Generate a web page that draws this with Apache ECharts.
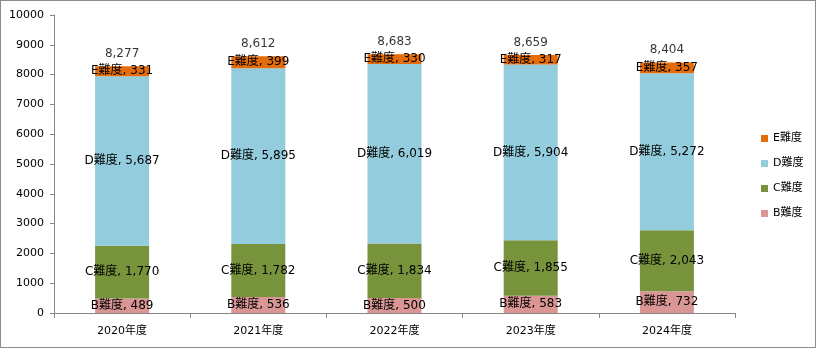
<!DOCTYPE html>
<html>
<head>
<meta charset="utf-8">
<script src="https://cdn.jsdelivr.net/npm/echarts@6/dist/echarts.min.js"></script>
<style>
html,body{margin:0;padding:0;background:#fff;}
#chart{width:816px;height:348px;box-sizing:border-box;border:1px solid #8c8c8c;}
</style>
</head>
<body>
<div id="chart"></div>
<script>
const categories = ['2020年度','2021年度','2022年度','2023年度','2024年度'];
const seriesB = [489, 536, 500, 583, 732];
const seriesC = [1770, 1782, 1834, 1855, 2043];
const seriesD = [5687, 5895, 6019, 5904, 5272];
const seriesE = [331, 399, 330, 317, 357];
const yTicks = [0,1000,2000,3000,4000,5000,6000,7000,8000,9000,10000];

const totals = categories.map((_, i) => seriesB[i] + seriesC[i] + seriesD[i] + seriesE[i]);
const FONT = "'DejaVu Sans','Noto Sans CJK JP',sans-serif";
const fmt = v => Number(v).toLocaleString('en-US');

function barSeries(name, data, color) {
  return {
    name, type: 'bar', stack: 'total', data, barWidth: 54,
    itemStyle: { color },
    label: {
      show: true, position: 'inside', color: '#000', fontFamily: FONT, fontSize: 12,
      formatter: p => p.seriesName + ', ' + fmt(p.value)
    }
  };
}

const chart = echarts.init(document.getElementById('chart'), null, { renderer: 'canvas' });
chart.setOption({
  animation: false,
  textStyle: { fontFamily: FONT },
  grid: { left: 53, right: 80, top: 14, bottom: 34, containLabel: false },
  legend: {
    data: ['E難度','D難度','C難度','B難度'],
    orient: 'vertical', left: 755, top: 127,
    itemWidth: 7, itemHeight: 7, itemGap: 14, icon: 'rect',
    textStyle: { fontFamily: FONT, fontSize: 11, color: '#000' }
  },
  xAxis: {
    type: 'category', data: categories,
    axisLine: { lineStyle: { color: '#868686' } },
    axisTick: { show: true, length: 5, lineStyle: { color: '#868686' } },
    axisLabel: { color: '#000', fontSize: 11, fontFamily: FONT, margin: 13 }
  },
  yAxis: {
    type: 'value', min: yTicks[0], max: yTicks[yTicks.length-1], interval: 1000,
    axisLine: { show: true, lineStyle: { color: '#868686' } },
    axisTick: { show: true, length: 4, lineStyle: { color: '#868686' } },
    splitLine: { show: false },
    axisLabel: { color: '#000', fontSize: 11, fontFamily: FONT, margin: 10, formatter: v => String(v) }
  },
  series: [
    barSeries('B難度', seriesB, '#D99694'),
    barSeries('C難度', seriesC, '#77933C'),
    barSeries('D難度', seriesD, '#93CDDD'),
    barSeries('E難度', seriesE, '#E46C0A'),
    {
      name: '合計', type: 'scatter', data: totals, symbolSize: 1,
      itemStyle: { color: 'rgba(0,0,0,0)' },
      label: {
        show: true, position: 'top', distance: 6, color: '#000',
        fontFamily: FONT, fontSize: 12, formatter: p => fmt(p.value)
      }
    }
  ]
});
</script>
</body>
</html>
